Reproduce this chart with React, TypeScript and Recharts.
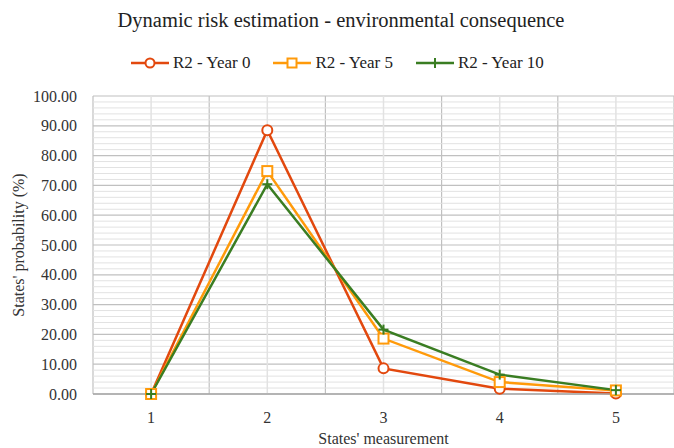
import React from 'react';
import { LineChart, Line, XAxis, YAxis, CartesianGrid, ReferenceLine } from 'recharts';

const states = [1, 2, 3, 4, 5];
const year0 = [0, 88.5, 8.6, 1.8, 0.2];
const year5 = [0, 74.8, 18.6, 4.0, 1.2];
const year10 = [0, 70.4, 21.6, 6.5, 1.3];
const yTicks = [0, 10, 20, 30, 40, 50, 60, 70, 80, 90, 100];

const data = states.map((s, i) => ({ state: s, y0: year0[i], y5: year5[i], y10: year10[i] }));

// minor gridlines every 2 %, skipping the major ones
const minorY = Array.from({ length: 51 }, (_, i) => i * 2).filter((v) => v % 10 !== 0);
const majorX = [0.5, 1.5, 2.5, 3.5, 4.5, 5.5];

const C0 = '#E2480E';
const C5 = '#FF9A0A';
const C10 = '#3A7D22';
const FONT = '"Liberation Serif", "Times New Roman", serif';

const CircleDot = (props: any) => {
  const { cx, cy, index } = props;
  return <circle key={`c${index}`} cx={cx} cy={cy} r={5} fill="#fff" stroke={C0} strokeWidth={2} />;
};
const SquareDot = (props: any) => {
  const { cx, cy, index } = props;
  return <rect key={`s${index}`} x={cx - 5} y={cy - 5} width={10} height={10} fill="#fff" stroke={C5} strokeWidth={2} />;
};
const PlusDot = (props: any) => {
  const { cx, cy, index } = props;
  return (
    <g key={`p${index}`}>
      <line x1={cx - 5} y1={cy} x2={cx + 5} y2={cy} stroke={C10} strokeWidth={2} />
      <line x1={cx} y1={cy - 5} x2={cx} y2={cy + 5} stroke={C10} strokeWidth={2} />
    </g>
  );
};

function LegendItem({ color, label, marker }: { color: string; label: string; marker: 'c' | 's' | 'p' }) {
  return (
    <div style={{ display: 'flex', alignItems: 'center', marginRight: 23 }}>
      <svg width={38} height={14} style={{ marginRight: 4 }}>
        <line x1={0} y1={7} x2={38} y2={7} stroke={color} strokeWidth={2.5} />
        {marker === 'c' && <circle cx={19} cy={7} r={4.5} fill="#fff" stroke={color} strokeWidth={2} />}
        {marker === 's' && <rect x={14.5} y={2.5} width={9} height={9} fill="#fff" stroke={color} strokeWidth={2} />}
        {marker === 'p' && <line x1={19} y1={2} x2={19} y2={12} stroke={color} strokeWidth={2} />}
      </svg>
      <span>{label}</span>
    </div>
  );
}

export default function App() {
  return (
    <div style={{ position: 'absolute', left: 0, top: 0, width: 674, height: 448, background: '#fff', fontFamily: FONT }}>
      <div style={{ position: 'absolute', top: 9, left: 4, width: 674, textAlign: 'center', fontSize: 20.5, color: '#222' }}>
        Dynamic risk estimation - environmental consequence
      </div>
      <div style={{ position: 'absolute', top: 53, left: 131, display: 'flex', fontSize: 17, color: '#222' }}>
        <LegendItem color={C0} label="R2 - Year 0" marker="c" />
        <LegendItem color={C5} label="R2 - Year 5" marker="s" />
        <LegendItem color={C10} label="R2 - Year 10" marker="p" />
      </div>
      <LineChart width={674} height={448} data={data} margin={{ top: 96, right: 0, left: 0, bottom: 24 }}>
        {minorY.map((v) => (
          <ReferenceLine key={`my${v}`} y={v} stroke="#e2e2e2" strokeWidth={1} />
        ))}
        {states.map((v) => (
          <ReferenceLine key={`mx${v}`} x={v} stroke="#e2e2e2" strokeWidth={1.5} />
        ))}
        <CartesianGrid horizontalValues={yTicks} verticalValues={majorX} stroke="#c0c0c0" strokeWidth={1.2} />
        <XAxis
          dataKey="state"
          type="number"
          domain={[0.5, 5.5]}
          ticks={states}
          tickLine={false}
          axisLine={{ stroke: '#a6a6a6', strokeWidth: 1.5 }}
          tick={{ fill: '#333', fontSize: 16, fontFamily: FONT }}
          tickMargin={12}
          label={{ value: "States' measurement", position: 'insideBottom', offset: -20, fill: '#333', fontSize: 16, fontFamily: FONT }}
        />
        <YAxis
          type="number"
          domain={[0, 100]}
          ticks={yTicks}
          width={93}
          tickLine={false}
          axisLine={false}
          tickFormatter={(v: number) => v.toFixed(2)}
          tick={{ fill: '#333', fontSize: 16, fontFamily: FONT }}
          tickMargin={10}
          label={{ value: "States' probability (%)", angle: -90, position: 'insideLeft', offset: 18, style: { textAnchor: 'middle' }, fill: '#333', fontSize: 16, fontFamily: FONT }}
        />
        <Line dataKey="y0" stroke={C0} strokeWidth={2.5} dot={CircleDot} activeDot={false} isAnimationActive={false} />
        <Line dataKey="y5" stroke={C5} strokeWidth={2.5} dot={SquareDot} activeDot={false} isAnimationActive={false} />
        <Line dataKey="y10" stroke={C10} strokeWidth={2.5} dot={PlusDot} activeDot={false} isAnimationActive={false} />
      </LineChart>
    </div>
  );
}
